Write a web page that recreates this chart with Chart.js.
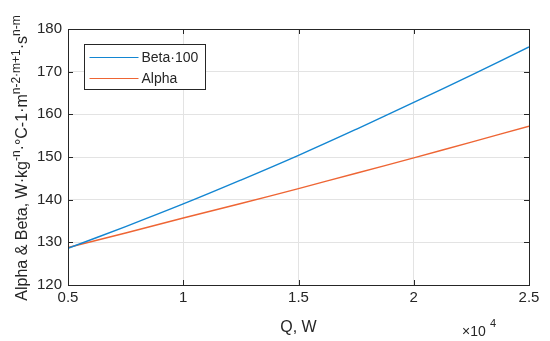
<!DOCTYPE html>
<html>
<head>
<meta charset="utf-8">
<script src="https://cdn.jsdelivr.net/npm/chart.js@4/dist/chart.umd.min.js"></script>
<style>
  body { margin: 0; background: #fff; }
  canvas { display: block; }
</style>
</head>
<body>
<canvas id="chart" width="550" height="341"></canvas>
<script>
// Q in W
const qValues = [5000, 7500, 10000, 12500, 15000, 17500, 20000, 22500, 25000];
const beta100 = [128.6, 133.7, 139.0, 144.6, 150.4, 156.5, 162.8, 169.2, 175.8];
const alpha = [128.8, 132.2, 135.7, 139.1, 142.6, 146.2, 149.8, 153.5, 157.2];
const xTicks = [5000, 10000, 15000, 20000, 25000];
const yTicks = [120, 130, 140, 150, 160, 170, 180];

const FONT = 'Liberation Sans, Arial, sans-serif';

// box, inward ticks, legend and axis labels drawn the MATLAB way
const matlabDecor = {
    id: 'matlabDecor',
    afterDraw(chart) {
        const ctx = chart.ctx;
        const a = chart.chartArea;
        const xs = chart.scales.x, ys = chart.scales.y;
        ctx.save();
        ctx.strokeStyle = '#262626';
        ctx.lineWidth = 1;
        ctx.beginPath();
        xTicks.forEach(v => {
            const px = Math.round(xs.getPixelForValue(v)) + 0.5;
            ctx.moveTo(px, a.bottom); ctx.lineTo(px, a.bottom - 5);
            ctx.moveTo(px, a.top); ctx.lineTo(px, a.top + 5);
        });
        yTicks.forEach(v => {
            const py = Math.round(ys.getPixelForValue(v)) + 0.5;
            ctx.moveTo(a.left, py); ctx.lineTo(a.left + 5, py);
            ctx.moveTo(a.right, py); ctx.lineTo(a.right - 5, py);
        });
        ctx.stroke();
        ctx.strokeRect(Math.round(a.left) + 0.5, Math.round(a.top) + 0.5,
            Math.round(a.right - a.left), Math.round(a.bottom - a.top));

        // legend
        const lx = 84.5, ly = 44.5, lw = 121, lh = 45;
        ctx.fillStyle = '#fff';
        ctx.fillRect(lx, ly, lw, lh);
        ctx.strokeStyle = '#262626';
        ctx.strokeRect(lx, ly, lw, lh);
        ctx.font = '14px ' + FONT;
        ctx.textBaseline = 'middle';
        chart.data.datasets.forEach((ds, i) => {
            const y = ly + 13 + i * 21;
            ctx.strokeStyle = ds.borderColor;
            ctx.beginPath();
            ctx.moveTo(lx + 5, y); ctx.lineTo(lx + 54, y);
            ctx.stroke();
            ctx.fillStyle = '#262626';
            ctx.fillText(ds.label, lx + 57, y + 1);
        });

        // x exponent
        ctx.fillStyle = '#262626';
        ctx.textBaseline = 'alphabetic';
        ctx.font = '14px ' + FONT;
        ctx.fillText('\u00d710', 462, 336);
        ctx.font = '11px ' + FONT;
        ctx.fillText('4', 490, 327);

        // y title with superscripts
        const parts = [
            ['Alpha & Beta, W\u00b7kg', false], ['-n', true], ['\u00b7\u00b0C-1\u00b7m', false],
            ['n-2\u00b7m+1', true], ['\u00b7s', false], ['n-m', true]
        ];
        const mainFont = '16px ' + FONT, supFont = '12px ' + FONT;
        let total = 0;
        parts.forEach(p => { ctx.font = p[1] ? supFont : mainFont; total += ctx.measureText(p[0]).width; });
        ctx.translate(27, 158);
        ctx.rotate(-Math.PI / 2);
        let x = -total / 2;
        parts.forEach(p => {
            ctx.font = p[1] ? supFont : mainFont;
            ctx.fillText(p[0], x, p[1] ? -7 : 0);
            x += ctx.measureText(p[0]).width;
        });
        ctx.restore();
    }
};

new Chart(document.getElementById('chart').getContext('2d'), {
    type: 'line',
    data: {
        labels: qValues,
        datasets: [{
            label: 'Beta\u00b7100',
            data: qValues.map((q, i) => ({ x: q, y: beta100[i] })),
            borderColor: '#1386D2',
            borderWidth: 1.4,
            pointRadius: 0,
            tension: 0.4
        }, {
            label: 'Alpha',
            data: qValues.map((q, i) => ({ x: q, y: alpha[i] })),
            borderColor: '#EE6534',
            borderWidth: 1.4,
            pointRadius: 0,
            tension: 0.4
        }]
    },
    options: {
        responsive: false,
        animation: false,
        layout: { padding: { top: 29, right: 21, left: 0, bottom: 0 } },
        plugins: {
            legend: { display: false },
            tooltip: { enabled: false }
        },
        scales: {
            x: {
                type: 'linear',
                min: 5000, max: 25000,
                afterBuildTicks: s => { s.ticks = xTicks.map(v => ({ value: v })); },
                afterFit: s => { s.height = 56; },
                grid: { color: '#e3e3e3', drawTicks: false },
                border: { display: false },
                ticks: {
                    color: '#262626', font: { family: FONT, size: 15 }, padding: 4,
                    maxRotation: 0,
                    callback: v => String(v / 10000)
                },
                title: {
                    display: true, text: 'Q, W', color: '#262626',
                    font: { family: FONT, size: 16 }, padding: { top: 3 }
                }
            },
            y: {
                min: 120, max: 180,
                afterBuildTicks: s => { s.ticks = yTicks.map(v => ({ value: v })); },
                afterFit: s => { s.width = 68; },
                grid: { color: '#e3e3e3', drawTicks: false },
                border: { display: false },
                ticks: { color: '#262626', font: { family: FONT, size: 15 }, padding: 6 }
            }
        }
    },
    plugins: [matlabDecor]
});
</script>
</body>
</html>
